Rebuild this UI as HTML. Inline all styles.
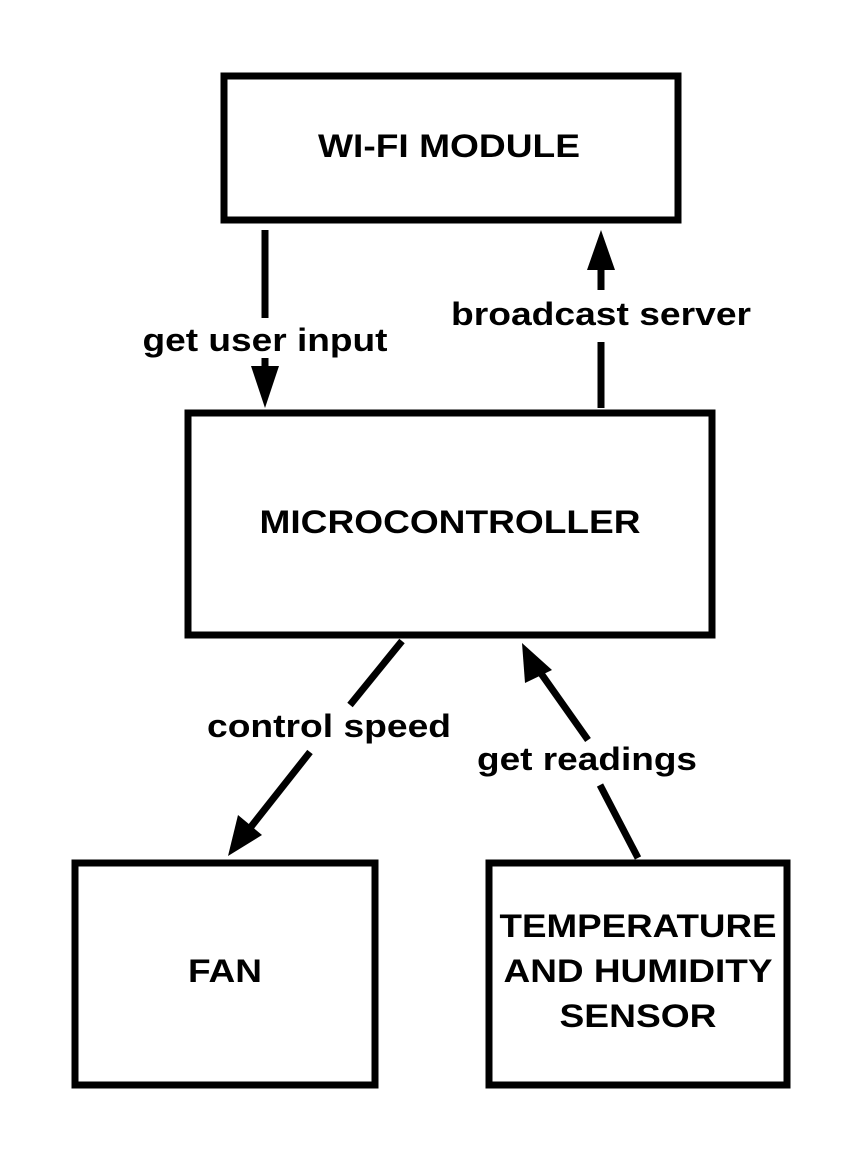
<!DOCTYPE html>
<html><head><style>
html,body{margin:0;padding:0;background:#fff;}
</style></head><body>
<svg width="863" height="1163" viewBox="0 0 863 1163" xmlns="http://www.w3.org/2000/svg" font-family="Liberation Sans, sans-serif" font-weight="bold">
<rect x="0" y="0" width="863" height="1163" fill="#fff"/>
<g fill="none" stroke="#000" stroke-width="7">
<rect x="224" y="76" width="454" height="144"/>
<rect x="188" y="413" width="524" height="222"/>
<rect x="75" y="863" width="300" height="222"/>
<rect x="489" y="863" width="298" height="222"/>
</g>
<g stroke="#000" stroke-width="7">
<line x1="265" y1="230" x2="265" y2="318"/>
<line x1="265" y1="358" x2="265" y2="368"/>
<line x1="601" y1="408" x2="601" y2="342"/>
<line x1="601" y1="290" x2="601" y2="268"/>
<line x1="402" y1="641" x2="350" y2="705"/>
<line x1="310" y1="752" x2="250" y2="828"/>
<line x1="638" y1="858" x2="600" y2="785"/>
<line x1="588" y1="740" x2="540" y2="672"/>
</g>
<g fill="#000">
<polygon points="251,366 279,366 265,408"/>
<polygon points="587,270 615,270 601,230"/>
<polygon points="228,856 238,815 262,835"/>
<polygon points="522,643 525,683 552,670"/>
</g>
<g fill="#000" font-size="32" text-anchor="middle" lengthAdjust="spacingAndGlyphs">
<text x="449" y="157" textLength="262" lengthAdjust="spacingAndGlyphs">WI-FI MODULE</text>
<text x="450" y="533" textLength="381" lengthAdjust="spacingAndGlyphs">MICROCONTROLLER</text>
<text x="225" y="982" textLength="74" lengthAdjust="spacingAndGlyphs">FAN</text>
<text x="638" y="937" textLength="277" lengthAdjust="spacingAndGlyphs">TEMPERATURE</text>
<text x="638" y="982" textLength="269" lengthAdjust="spacingAndGlyphs">AND HUMIDITY</text>
<text x="638" y="1027" textLength="157" lengthAdjust="spacingAndGlyphs">SENSOR</text>
<text x="265" y="351" textLength="245" lengthAdjust="spacingAndGlyphs">get user input</text>
<text x="601" y="325" textLength="300" lengthAdjust="spacingAndGlyphs">broadcast server</text>
<text x="329" y="737" textLength="244" lengthAdjust="spacingAndGlyphs">control speed</text>
<text x="587" y="770" textLength="220" lengthAdjust="spacingAndGlyphs">get readings</text>
</g>
</svg>
</body></html>
